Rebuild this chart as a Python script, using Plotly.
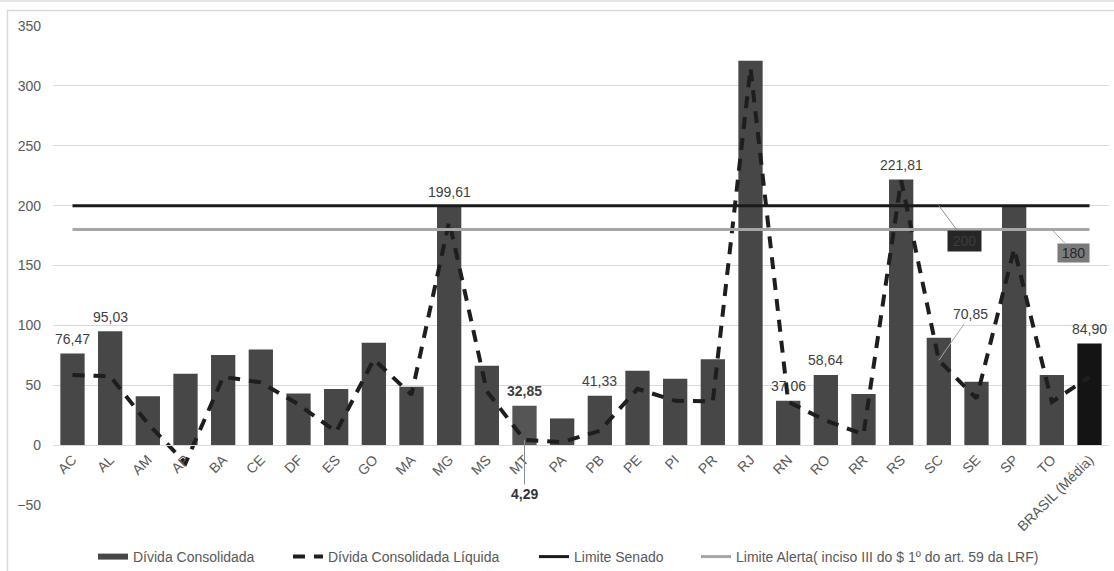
import plotly.graph_objects as go

categories = ["AC", "AL", "AM", "AP", "BA", "CE", "DF", "ES", "GO", "MA", "MG", "MS", "MT",
              "PA", "PB", "PE", "PI", "PR", "RJ", "RN", "RO", "RR", "RS", "SC", "SE", "SP",
              "TO", "BRASIL (Média)"]

divida_consolidada = [76.47, 95.03, 40.9, 59.6, 75.2, 79.9, 43.2, 46.8, 85.5, 48.7, 199.61, 66.3,
                      32.85, 22.3, 41.33, 62.1, 55.4, 71.8, 321.0, 37.06, 58.64, 42.6, 221.81,
                      89.6, 52.9, 199.1, 58.5, 84.90]

divida_liquida = [58.5, 57.6, 18.0, -15.0, 57.0, 52.4, 34.0, 11.0, 71.6, 42.0, 187.0, 45.0,
                  4.29, 2.5, 12.0, 47.0, 37.0, 36.5, 315.0, 36.2, 20.5, 9.0, 221.0, 70.85,
                  39.0, 164.0, 36.0, 57.0]

limite_senado = [200] * len(categories)
limite_alerta = [180] * len(categories)

bar_label_text = ["76,47", "95,03", "", "", "", "", "", "", "", "", "199,61", "",
                  "<b>32,85</b>", "", "41,33", "", "", "", "", "37,06", "58,64", "", "221,81",
                  "", "", "", "", "84,90"]

series_names = ["Dívida Consolidada", "Dívida Consolidada Líquida", "Limite Senado",
                "Limite Alerta( inciso III do $ 1º do art. 59 da LRF)"]

bar_colors = ["#474747"] * len(categories)
bar_colors[categories.index("MT")] = "#555555"
bar_colors[-1] = "#141414"

FONT = "Liberation Sans, Arial, sans-serif"
GRAY_TXT = "#595959"

# plot area in pixels
W, H = 1114, 571
PL, PR, PT, PB = 53, 1109, 26, 505


def px_x(x):
    return (x - PL) / (PR - PL)


def px_y(y):
    return (PB - y) / (PB - PT)


fig = go.Figure()
fig.add_trace(go.Bar(x=categories, y=divida_consolidada, name=series_names[0],
                     marker=dict(color=bar_colors, line=dict(width=0)), showlegend=False))
# legend swatch for the bars (thin wide rectangle like the original)
fig.add_trace(go.Scatter(x=[None], y=[None], name=series_names[0], mode="lines",
                         line=dict(color="#474747", width=6), legend="legend"))
fig.add_trace(go.Scatter(x=categories, y=divida_liquida, name=series_names[1],
                         mode="lines", line=dict(color="#1e1e1e", width=4, dash="12px,9px"),
                         legend="legend2"))
fig.add_trace(go.Scatter(x=categories, y=limite_senado, name=series_names[2],
                         mode="lines", line=dict(color="#1a1a1a", width=3), legend="legend3"))
fig.add_trace(go.Scatter(x=categories, y=limite_alerta, name=series_names[3],
                         mode="lines", line=dict(color="#a6a6a6", width=3), legend="legend4"))

annotations = []
for c, v, t in zip(categories, divida_consolidada, bar_label_text):
    if t:
        annotations.append(dict(x=c, y=v, text=t, showarrow=False, yanchor="middle",
                                yshift=14.5, font=dict(size=14, color="#404040", family=FONT)))

i_mt = categories.index("MT")
i_sc = categories.index("SC")
i_to = categories.index("TO")
annotations.append(dict(x="MT", y=divida_liquida[i_mt], text="<b>4,29</b>", showarrow=True,
                        arrowhead=0, arrowwidth=1, arrowcolor="#8c8c8c", ax=0, ay=54,
                        font=dict(size=14, color="#333333", family=FONT)))
annotations.append(dict(x="SC", y=divida_liquida[i_sc], text="70,85", showarrow=True,
                        arrowhead=0, arrowwidth=1, arrowcolor="#a6a6a6", ax=32, ay=-46,
                        font=dict(size=14, color="#404040", family=FONT)))
annotations.append(dict(x="SC", y=limite_senado[i_sc], text="200", showarrow=True,
                        arrowhead=0, arrowwidth=1, arrowcolor="#8c8c8c", ax=26, ay=35,
                        bgcolor="#262626", width=29, height=16, borderpad=2,
                        font=dict(size=14, color="#3c3c3c", family=FONT)))
annotations.append(dict(x="TO", y=limite_alerta[i_to], text="180", showarrow=True,
                        arrowhead=0, arrowwidth=1, arrowcolor="#a6a6a6", ax=22, ay=23,
                        bgcolor="#7a7a7a", width=27, height=14, borderpad=2,
                        font=dict(size=14, color="#262626", family=FONT)))

shapes = [
    dict(type="rect", xref="paper", yref="paper", x0=px_x(7.5), x1=px_x(1130),
         y0=px_y(590), y1=px_y(10.5),
         line=dict(color="#d9d9d9", width=1.5), fillcolor="rgba(0,0,0,0)", layer="below"),
    dict(type="line", xref="paper", yref="paper", x0=px_x(-10), x1=px_x(1130),
         y0=px_y(1), y1=px_y(1), line=dict(color="#dedede", width=1.5)),
]

leg_common = dict(orientation="h", yanchor="middle", y=px_y(557), xanchor="left",
                  font=dict(size=14, color=GRAY_TXT, family=FONT), bgcolor="rgba(0,0,0,0)",
                  borderwidth=0)

fig.update_layout(
    width=W, height=H,
    margin=dict(l=PL, r=W - PR, t=PT, b=H - PB, autoexpand=False),
    paper_bgcolor="white", plot_bgcolor="white",
    font=dict(family=FONT, size=14, color=GRAY_TXT),
    bargap=0.355,
    showlegend=True,
    legend=dict(leg_common, x=px_x(93)),
    legend2=dict(leg_common, x=px_x(288)),
    legend3=dict(leg_common, x=px_x(534)),
    legend4=dict(leg_common, x=px_x(696)),
    annotations=annotations,
    shapes=shapes,
    xaxis=dict(anchor="free", position=0.125, tickangle=-45, showgrid=False,
               showline=True, linecolor="#d9d9d9", linewidth=1, ticks="",
               tickfont=dict(size=14, color=GRAY_TXT), zeroline=False),
    yaxis=dict(range=[-50, 350], dtick=50, tick0=0, showgrid=True, gridcolor="#d9d9d9",
               gridwidth=1, zeroline=False, showline=False, ticks="",
               tickfont=dict(size=14, color=GRAY_TXT), ticklabelstandoff=11),
)

fig.write_html("out.html", config={"displayModeBar": False},
               post_script="document.body.style.margin='0';document.body.style.overflow='hidden';")
